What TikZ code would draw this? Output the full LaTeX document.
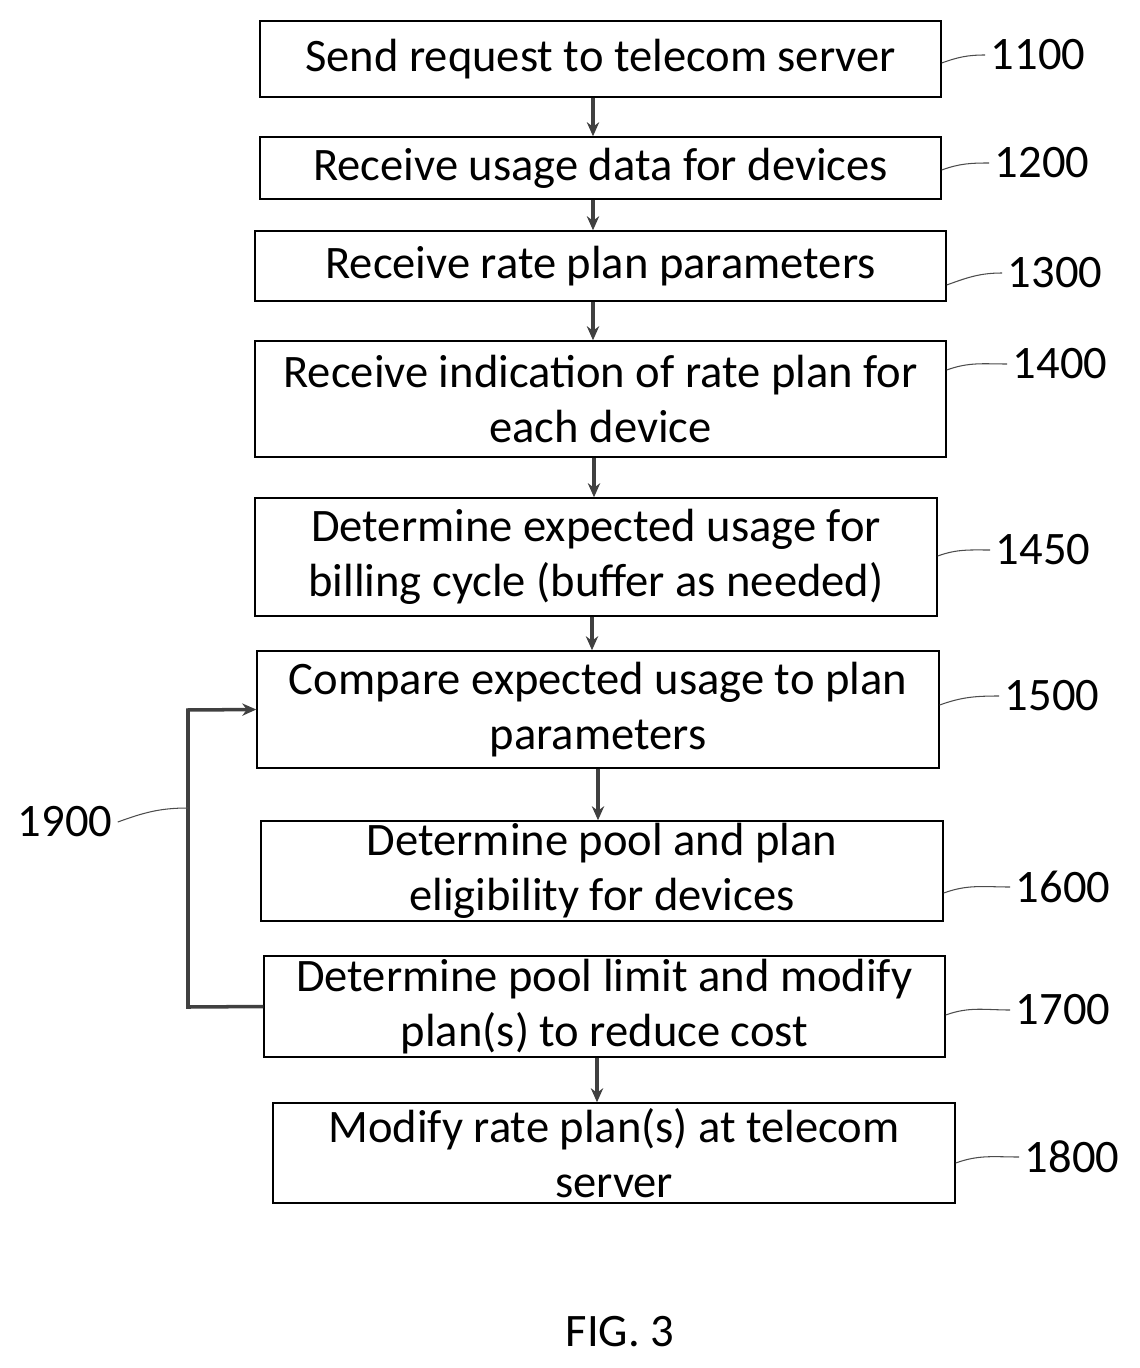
\documentclass[tikz,border=0pt]{standalone}
\usepackage{fontspec}
\setmainfont{Carlito}
\usetikzlibrary{arrows.meta}

\begin{document}
\begin{tikzpicture}[x=0.02cm, y=-0.02cm,
  proc/.style={rectangle, draw=black, thick, fill=white, inner sep=0pt,
    align=center, font=\fontsize{26.5}{31}\selectfont},
  %
  number/.style={font=\fontsize{26.5}{30}\selectfont, inner sep=3pt},
  %
  flow/.style={-{Stealth[length=8pt,width=7pt]}, line width=2pt, black!75},
  %
  leader/.style={black!70, line width=.6pt}
  ]

  \useasboundingbox (0,0) rectangle (1139,1368);

  % process steps
  \node [proc, minimum width=681*0.02cm, minimum height=76*0.02cm] (s1100) at (600.5,59) {Send request to telecom server};
  \node [proc, minimum width=681*0.02cm, minimum height=62*0.02cm] (s1200) at (600.5,168) {Receive usage data for devices};
  \node [proc, minimum width=691*0.02cm, minimum height=70*0.02cm] (s1300) at (600.5,266) {Receive rate plan parameters};
  \node [proc, minimum width=691*0.02cm, minimum height=116*0.02cm] (s1400) at (600.5,399) {Receive indication of rate plan for\\each device};
  \node [proc, minimum width=682*0.02cm, minimum height=118*0.02cm] (s1450) at (596,557) {Determine expected usage for\\billing cycle (buffer as needed)};
  \node [proc, minimum width=682*0.02cm, minimum height=117*0.02cm] (s1500) at (598,709.5) {Compare expected usage to plan\\parameters};
  \node [proc, minimum width=682*0.02cm, minimum height=100*0.02cm] (s1600) at (602,871) {Determine pool and plan\\eligibility for devices};
  \node [proc, minimum width=681*0.02cm, minimum height=101*0.02cm] (s1700) at (604.5,1006.5) {Determine pool limit and modify\\plan(s) to reduce cost};
  \node [proc, minimum width=682*0.02cm, minimum height=100*0.02cm] (s1800) at (614,1153) {Modify rate plan(s) at telecom\\server};

  % arrows between steps
  \draw [flow] (s1100.south -| 593,0) -- (s1200.north -| 593,0);
  \draw [flow] (s1200.south -| 593,0) -- (s1300.north -| 593,0);
  \draw [flow] (s1300.south -| 593,0) -- (s1400.north -| 593,0);
  \draw [flow] (s1400.south -| 594,0) -- (s1450.north -| 594,0);
  \draw [flow] (s1450.south -| 592,0) -- (s1500.north -| 592,0);
  \draw [flow] (s1500.south -| 598,0) -- (s1600.north -| 598,0);
  \draw [flow] (s1700.south -| 597,0) -- (s1800.north -| 597,0);

  % loop back
  \coordinate (loopA) at (188,1007);
  \coordinate (loopB) at (188,710);
  \draw [flow] (s1700.west) -- (loopA) -- (loopB) -- (s1500.west);

  % reference numbers
  \node [number] (n1100) at (1038,55) {1100};
  \node [number] (n1200) at (1042,163) {1200};
  \node [number] (n1300) at (1055,273) {1300};
  \node [number] (n1400) at (1060,364) {1400};
  \node [number] (n1450) at (1043,550) {1450};
  \node [number] (n1500) at (1052,696) {1500};
  \node [number] (n1600) at (1063,887) {1600};
  \node [number] (n1700) at (1063,1010) {1700};
  \node [number] (n1800) at (1072,1157) {1800};
  \node [number] (n1900) at (65,822) {1900};

  \draw [leader] (s1100.east |- 0,63) to[out=20, in=180] (n1100.west);
  \draw [leader] (s1200.east |- 0,170) to[out=20, in=180] (n1200.west);
  \draw [leader] (s1300.east |- 0,285) to[out=20, in=180] (n1300.west);
  \draw [leader] (s1400.east |- 0,370) to[out=20, in=180] (n1400.west);
  \draw [leader] (s1450.east |- 0,556) to[out=20, in=180] (n1450.west);
  \draw [leader] (s1500.east |- 0,705) to[out=20, in=180] (n1500.west);
  \draw [leader] (s1600.east |- 0,893) to[out=20, in=180] (n1600.west);
  \draw [leader] (s1700.east |- 0,1015) to[out=20, in=180] (n1700.west);
  \draw [leader] (s1800.east |- 0,1163) to[out=20, in=180] (n1800.west);
  \draw [leader] (n1900.east) to[out=20, in=180] (loopB |- 0,808);

  \node [number] (fig) at (620,1332) {FIG. 3};

\end{tikzpicture}
\end{document}
